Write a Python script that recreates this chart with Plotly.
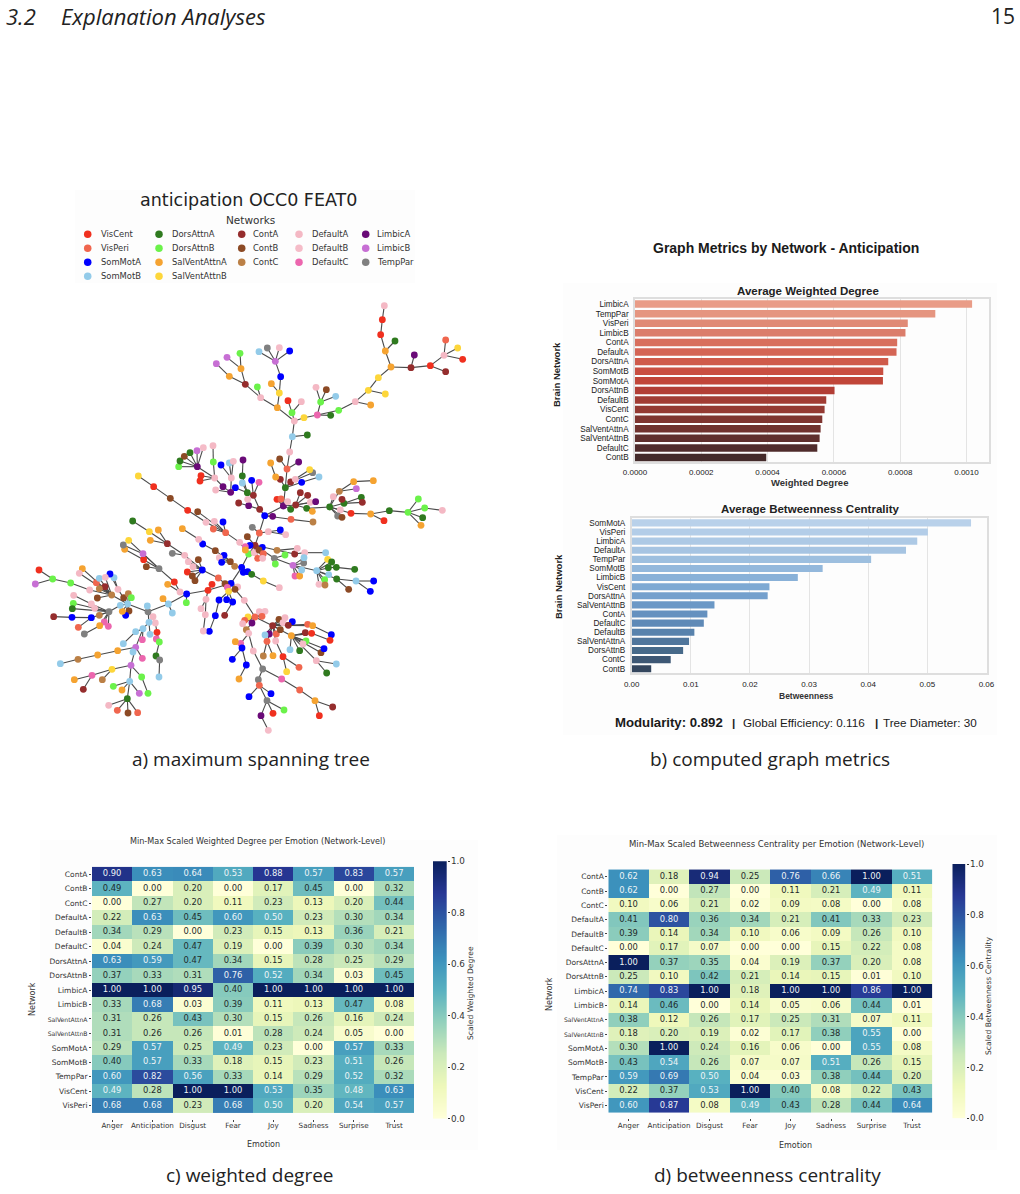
import plotly.graph_objects as go

W, H = 1020, 1194

# ---- network palette -------------------------------------------------------
network_codes = ["VC", "VP", "SA", "SB", "DA", "DB", "SVA", "SVB", "CA", "CB", "CC",
                 "DFA", "DFB", "DFC", "LA", "LB", "TP"]
network_names = ["VisCent", "VisPeri", "SomMotA", "SomMotB", "DorsAttnA", "DorsAttnB",
                 "SalVentAttnA", "SalVentAttnB", "ContA", "ContB", "ContC",
                 "DefaultA", "DefaultB", "DefaultC", "LimbicA", "LimbicB", "TempPar"]
network_colors = ["#f0301f", "#f0664e", "#0000ff", "#93cbe9", "#2f7a1f", "#6bf24a",
                  "#f5a331", "#fdd63a", "#952d2d", "#8c4a25", "#bb8046",
                  "#f4b8c4", "#f5bcc8", "#ec66ae", "#6a0a78", "#c76fd4", "#808080"]
legend_columns = [4, 4, 3, 3, 3]

# ---- spanning tree: each branch walks from a known node ("x,y") through new ones ("x,y,NET")
trunk_branches = [
    "633,400,SA 665,352,SA 686,312,DB 705,286,CA 718,249,VP 734,197,SA 790,168,LA 796,113,DA 801,57,VP 809,6,DFA 817,-40,SB 823,-87,DFA",
    "817,-40 862,-45,DA",
]
crown_branches = [
    "823,-87 772,-127,SVA 722,-157,DFA 676,-197,CA 628,-221,SVA 589,-259,LB",
    "676,-197 663,-244,SVA 621,-278,LB",
    "663,-244 660,-290,DB",
    "722,-157 712,-189,DB",
    "772,-127 778,-171,SVB 754,-199,SVA",
    "778,-171 782,-220,SA 766,-266,LB 717,-295,SB",
    "766,-266 742,-306,TP",
    "766,-266 778,-307,DFB",
    "766,-266 809,-297,SA",
    "823,-87 816,-112,DB 804,-148,VC",
    "816,-112 844,-145,DFA",
    "823,-87 852,-97,SVB 892,-105,DFC 932,-104,DA",
    "892,-105 902,-144,DB 888,-188,DFA",
    "902,-144 919,-181,CB",
    "902,-144 947,-161,SB",
    "892,-105 956,-119,DB 1006,-145,DFA 1052,-135,SVA",
    "1006,-145 1045,-179,SVB 1096,-168,SVB",
    "1045,-179 1075,-217,SVB 1113,-249,SVA 1096,-297,SVA 1125,-327,DA",
    "1096,-297 1082,-346,VC 1087,-391,VC 1093,-433,DFA",
    "1113,-249 1173,-247,CA 1183,-285,LA",
    "1173,-247 1231,-253,VC 1277,-235,CA",
    "1231,-253 1272,-284,DFA 1277,-330,VP",
    "1272,-284 1313,-306,SVB",
    "1272,-284 1328,-272,VC",
    "801,57 779,27,CB",
    "801,57 836,36,LA",
    "796,113 781,88,CA 767,81,SVA 752,39,SVA",
    "796,113 812,96,CA 878,68,TP",
    "812,96 869,59,SVB",
    "796,113 845,97,SA 897,81,SB",
    "796,113 826,88,DFA",
]
right_branches = [
    "790,168 771,148,VC",
    "790,168 783,147,VP",
    "790,168 803,155,DFA",
    "790,168 812,178,DA",
    "790,168 827,165,CA 841,128,CA",
    "827,165 863,136,CA",
    "827,165 871,157,DFB",
    "827,165 887,155,LA",
    "827,165 860,175,DA 877,184,SVA",
    "860,175 929,171,DA 958,124,CC 1001,95,SVA 1060,92,SVA",
    "958,124 1009,116,LB",
    "929,171 940,140,DFA",
    "929,171 972,160,DA 1024,142,DA",
    "972,160 1027,157,CA",
    "972,160 966,148,CA",
    "929,171 961,180,DFB",
    "929,171 953,198,TP",
    "929,171 966,202,CB",
    "929,171 993,190,VC 1052,192,SVA 1108,182,DA 1164,187,DB 1195,147,DB",
    "1164,187 1214,174,DB 1267,181,DFA",
    "1164,187 1208,203,DA",
    "1164,187 1203,226,SVA",
    "1052,192 1092,212,VC",
    "734,197 758,199,LA",
    "734,197 813,208,VP 879,216,CC",
    "734,197 719,178,CA 700,136,CA 682,128,DA 667,78,DA 669,30,LA",
    "700,136 695,91,SA",
    "700,136 717,97,DFC",
    "682,128 667,99,SB",
    "719,178 686,167,LA 656,159,CA",
    "686,167 683,148,DFB",
    "682,128 646,113,SA 632,127,LA 587,120,DFA",
    "632,127 609,110,LA 584,84,DFA 580,36,DB 579,-13,DFA",
    "584,84 532,50,LA 476,50,DB",
    "532,50 480,33,DA",
    "532,50 493,19,CB",
    "532,50 510,8,DA",
    "532,50 531,2,LB",
    "532,50 550,-7,DFB",
    "584,84 543,77,VC",
    "584,84 540,93,VC",
    "632,127 634,84,DFA 628,39,SB",
    "634,84 640,34,DFB",
    "634,84 603,45,SA",
]
middle_branches = [
    "718,249 745,245,DFA 781,240,SA",
    "745,245 797,254,DFB",
    "718,249 697,232,TP",
    "705,286 682,260,CB",
    "705,286 690,286,SA",
    "705,286 727,292,SA",
    "705,286 676,290,DFC",
    "705,286 676,300,SVA",
    "705,286 703,308,DFB",
    "705,286 717,300,CB",
    "705,286 730,311,VP",
    "705,286 713,325,VP",
    "705,286 728,325,DFA",
    "705,286 771,301,CC 824,312,CA 854,308,DFB 917,308,SB",
    "771,301 832,295,DFA",
    "705,286 763,325,TP 819,346,LB 825,378,DFC",
    "819,346 839,378,SVA",
    "819,346 845,360,SB",
    "819,346 851,339,TP",
    "819,346 852,323,SB",
    "763,325 795,315,DB",
    "763,325 766,342,DB",
    "819,346 890,362,SB 923,328,SVB",
    "890,362 935,336,DA",
    "890,362 925,353,DA 949,352,DA 1004,358,DA",
    "890,362 926,374,SB",
    "890,362 914,389,DB",
    "890,362 897,403,DFB",
    "890,362 915,405,CC",
    "890,362 950,387,DA 1008,393,SB 1061,393,SA",
    "1008,393 1051,424,SA",
    "950,387 986,418,CB",
    "686,312 659,277,DFA 617,248,VP 580,237,VP",
    "617,248 583,214,DFA",
    "617,248 609,216,SA",
    "617,248 533,185,CB",
    "617,248 558,217,DFB 503,181,VC 451,145,CB 401,110,VC 355,78,SVB",
    "665,352 670,367,SA",
    "665,352 683,365,SA",
    "665,352 695,373,DA 730,393,SVB 778,413,DFA",
    "665,352 644,349,CC 631,335,CB 586,302,CB 548,282,SA 536,268,DFA 487,236,SVA",
    "631,335 612,316,SA",
    "631,335 598,323,DFB",
    "631,335 605,337,SA",
    "633,400 615,401,CB 595,384,VP 547,360,SA 535,329,CB",
    "547,360 519,350,DFA",
    "547,360 505,335,DFB",
    "547,360 502,366,VC",
    "547,360 517,378,CB",
    "547,360 525,392,CB",
    "547,360 494,316,DFA 457,310,TP",
    "494,316 442,281,CA 415,240,SVA",
    "442,281 388,245,SVB 338,213,DA",
    "442,281 391,271,SVA",
]
lower_branches = [
    "633,400 622,412,DFC",
    "633,400 653,411,DFA",
    "633,400 626,424,SVB 597,450,SA 586,497,SA 568,544,SA",
    "626,424 620,449,SA",
    "626,424 638,456,SA 614,496,CA",
    "633,400 645,418,CB 673,451,DFA 705,501,VP 684,501,SVB",
    "705,501 718,485,DFA",
    "705,501 735,484,DFB",
    "705,501 726,499,VP",
    "705,501 674,511,VP",
    "705,501 668,521,DFA",
    "705,501 696,519,LA 679,539,CC 686,550,DFB 662,580,DFC 646,575,SVA",
    "662,580 666,594,SA 637,628,SA",
    "666,594 679,645,SA 657,687,SVA",
    "686,550 700,603,DFA 728,657,TP 715,689,TP 718,706,VP 687,740,SA",
    "718,706 753,731,SA",
    "718,706 741,752,TP 723,797,LA 745,841,DFB",
    "741,752 759,790,VC",
    "741,752 792,780,DB",
    "728,657 785,687,DFC 839,720,VP 885,752,SVA 938,771,CA",
    "885,752 898,797,VC",
    "705,501 758,527,CA 777,508,CB",
    "758,527 795,503,DFA",
    "758,527 789,518,DFB",
    "758,527 817,515,SA",
    "758,527 805,526,CA 863,523,VP",
    "805,526 878,527,SVA 934,554,SA",
    "758,527 748,552,LA",
    "758,527 735,555,SB",
    "758,527 769,552,VP",
    "758,527 781,539,CB",
    "758,527 741,574,VP 730,618,CC",
    "741,574 759,617,SVA",
    "758,527 767,573,DFA 789,620,VC 800,665,SVB",
    "789,620 837,652,VP",
    "758,527 814,557,SVA 856,548,CA",
    "814,557 875,550,VC 930,571,VC",
    "814,557 858,573,DB",
    "814,557 849,582,DFB",
    "814,557 810,599,SB",
    "814,557 839,602,DA",
    "814,557 903,608,CB",
    "814,557 912,596,SA",
    "814,557 889,632,DFA 949,642,SB",
    "889,632 920,669,DA",
]
left_branches = [
    "633,400 564,421,VC 500,432,SA 499,458,DB",
    "564,421 576,403,VC",
    "564,421 558,448,DFA 543,476,DFB",
    "558,448 556,494,DFA 550,543,DFB",
    "500,432 480,426,DFA 463,396,VC 417,356,TP 379,350,CB",
    "480,426 443,403,SVA",
    "417,356 371,329,VC 314,298,SVA",
    "417,356 369,311,LB 310,285,TP",
    "417,356 326,271,SVB",
    "500,432 445,462,SB 429,446,SVA",
    "445,462 457,489,SB",
    "445,462 384,485,TP 382,468,SB",
    "384,485 399,500,DFA",
    "384,485 406,519,DFB 411,547,VC 409,567,DFC",
    "411,547 418,576,DB 408,618,DA 419,630,TP 417,681,SB",
    "384,485 387,517,SB 369,536,SB 347,545,SB 310,581,SB",
    "387,517 390,553,SB",
    "369,536 367,569,DFC",
    "369,536 347,592,LB 339,606,SB",
    "347,592 367,625,DFC",
    "347,592 333,646,LB 276,658,SVB 216,676,DFC 163,689,SVA",
    "216,676 190,718,CA",
    "276,658 247,689,CC",
    "333,646 329,694,SB 280,709,DB",
    "329,694 306,720,SVA",
    "329,694 358,730,LB",
    "333,646 365,681,DB 384,730,DB",
    "329,694 322,746,DA 266,766,DFA",
    "322,746 292,781,VP",
    "322,746 324,789,CB",
    "322,746 353,788,VP",
    "347,592 293,602,SVA 233,615,SVA 174,628,CC 121,641,SB",
    "384,485 323,462,SB 311,443,CB",
    "323,462 325,431,CC",
    "323,462 334,443,DB",
    "323,462 327,483,CB",
    "323,462 317,496,SA",
    "323,462 307,484,SVA",
    "323,462 294,418,DFA 282,383,SB",
    "294,418 270,372,SA",
    "323,462 275,435,CC 255,410,CA",
    "275,435 238,416,CC",
    "275,435 229,398,VP",
    "275,435 209,420,DFA 152,399,DB 98,387,DB 57,360,VC",
    "98,387 46,402,LB",
    "275,435 238,385,SB",
    "275,435 256,382,DFB",
    "275,435 187,356,SVA",
    "275,435 178,370,DFA",
    "275,435 232,444,CB",
    "323,462 301,466,SB 267,485,TP 224,475,DFA",
    "267,485 214,462,DFB 161,436,DFA",
    "267,485 160,460,DB",
    "267,485 157,476,DA",
    "267,485 238,496,CC",
    "267,485 214,503,SA 156,502,SA 101,500,CA",
    "267,485 253,516,DFC",
    "267,485 265,529,DFC",
    "267,485 239,527,SVA 193,552,TP",
    "214,503 175,532,VP",
]

# ---- bar charts ------------------------------------------------------------
degree_networks = ["LimbicA", "TempPar", "VisPeri", "LimbicB", "ContA", "DefaultA", "DorsAttnA",
                   "SomMotB", "SomMotA", "DorsAttnB", "DefaultB", "VisCent", "ContC",
                   "SalVentAttnA", "SalVentAttnB", "DefaultC", "ContB"]
degree_values = [0.001017, 0.000906, 0.000823, 0.000816, 0.000791, 0.000789, 0.000764,
                 0.000749, 0.000748, 0.000602, 0.000577, 0.000572, 0.000565,
                 0.000560, 0.000557, 0.000550, 0.000396]
degree_colors = ["#e99c87", "#e59580", "#e08a76", "#db7d6b", "#d86f5d", "#d46555", "#cf5a4a",
                 "#c94f41", "#c14639", "#b23e35", "#a13c34", "#943a33", "#7f3530",
                 "#70322e", "#5f2f2d", "#502c2c", "#432a2a"]

between_networks = ["SomMotA", "VisPeri", "LimbicA", "DefaultA", "TempPar", "SomMotB", "LimbicB",
                    "VisCent", "DorsAttnA", "SalVentAttnB", "ContA", "DefaultC", "DefaultB",
                    "SalVentAttnA", "DorsAttnB", "ContC", "ContB"]
between_values = [0.0574, 0.0501, 0.0483, 0.0464, 0.0405, 0.0323, 0.0281, 0.0233, 0.0230,
                  0.0140, 0.0128, 0.0122, 0.0106, 0.0097, 0.0087, 0.0066, 0.0033]
between_colors = ["#b9d1ea", "#b3cde8", "#adc9e5", "#a6c4e2", "#9dbfdf", "#93b8dc", "#89b1d8",
                  "#7ea9d3", "#74a0cd", "#6b98c6", "#6591bf", "#5f8ab7", "#5882ac",
                  "#50769c", "#476a8a", "#3e5875", "#34465e"]

# ---- heatmaps --------------------------------------------------------------
emotions = ["Anger", "Anticipation", "Disgust", "Fear", "Joy", "Sadness", "Surprise", "Trust"]
heat_networks = ["ContA", "ContB", "ContC", "DefaultA", "DefaultB", "DefaultC", "DorsAttnA",
                 "DorsAttnB", "LimbicA", "LimbicB", "SalVentAttnA", "SalVentAttnB",
                 "SomMotA", "SomMotB", "TempPar", "VisCent", "VisPeri"]
scaled_degree = [
    [.90, .63, .64, .53, .88, .57, .83, .57],
    [.49, .00, .20, .00, .17, .45, .00, .32],
    [.00, .27, .20, .11, .23, .13, .20, .44],
    [.22, .63, .45, .60, .50, .23, .30, .34],
    [.34, .29, .00, .23, .15, .13, .36, .21],
    [.04, .24, .47, .19, .00, .39, .30, .34],
    [.63, .59, .47, .34, .15, .28, .25, .29],
    [.37, .33, .31, .76, .52, .34, .03, .45],
    [1.0, 1.0, .95, .40, 1.0, 1.0, 1.0, 1.0],
    [.33, .68, .03, .39, .11, .13, .47, .08],
    [.31, .26, .43, .30, .15, .26, .16, .24],
    [.31, .26, .26, .01, .28, .24, .05, .00],
    [.29, .57, .25, .49, .23, .00, .57, .33],
    [.40, .57, .33, .18, .15, .23, .51, .26],
    [.60, .82, .56, .33, .14, .29, .52, .32],
    [.49, .28, 1.0, 1.0, .53, .35, .48, .63],
    [.68, .68, .23, .68, .50, .20, .54, .57],
]
scaled_betweenness = [
    [.62, .18, .94, .25, .76, .66, 1.0, .51],
    [.62, .00, .27, .00, .11, .21, .49, .11],
    [.10, .06, .21, .02, .09, .08, .00, .08],
    [.41, .80, .36, .34, .21, .41, .33, .23],
    [.39, .14, .34, .10, .06, .09, .26, .10],
    [.00, .17, .07, .00, .00, .15, .22, .08],
    [1.0, .37, .35, .04, .19, .37, .20, .08],
    [.25, .10, .42, .21, .14, .15, .01, .10],
    [.74, .83, 1.0, .18, 1.0, 1.0, .86, 1.0],
    [.14, .46, .00, .14, .05, .06, .44, .01],
    [.38, .12, .26, .17, .25, .31, .07, .11],
    [.18, .20, .19, .02, .17, .38, .55, .00],
    [.30, 1.0, .24, .16, .06, .00, .55, .08],
    [.43, .54, .26, .07, .07, .51, .26, .15],
    [.59, .69, .50, .04, .03, .38, .44, .20],
    [.22, .37, .53, 1.0, .40, .08, .22, .43],
    [.60, .87, .08, .49, .43, .28, .44, .64],
]
heat_palette = ["#ffffd9", "#eef8ba", "#cbe9ba", "#92d0bc", "#58b1c0", "#3b90bc", "#2f64a9", "#273794", "#0a1f5c"]
scale_ticks = [0, .2, .4, .6, .8, 1]

BODY = "Open Sans"
MPL = "DejaVu Sans"
ARIAL = "Liberation Sans"
heat_scale = [[k / 8, c] for k, c in enumerate(heat_palette)]


def px(x):
    return x / W


def py(y):
    return 1 - y / H


def parse_tree(*groups):
    nodes, edges = {}, []
    for group in groups:
        for branch in group:
            prev = None
            for token in branch.split():
                parts = token.split(",")
                key = (int(parts[0]), int(parts[1]))
                if len(parts) == 3:
                    nodes[key] = parts[2]
                elif key not in nodes:
                    raise KeyError(token)
                if prev is not None:
                    edges.append((prev, key))
                prev = key
    return nodes, edges


nodes, edges = parse_tree(trunk_branches, crown_branches, right_branches,
                          middle_branches, lower_branches, left_branches)

fig = go.Figure()
annotations = []


def label(x, y, text, size, color="#222222", family=MPL, anchor="center", angle=0, **kw):
    annotations.append(dict(x=px(x), y=py(y), xref="paper", yref="paper", text=text,
                            showarrow=False, xanchor=anchor, yanchor="middle",
                            textangle=angle, align="left",
                            font=dict(size=size, color=color, family=family), **kw))


# tree layout units are 3 per page pixel, offset from (20, 450)
edge_x, edge_y = [], []
for a, b in edges:
    edge_x += [a[0], b[0], None]
    edge_y += [a[1], b[1], None]
fig.add_trace(go.Scatter(x=edge_x, y=edge_y, mode="lines", hoverinfo="skip",
                         line=dict(color="#4a4a4a", width=1.1), xaxis="x", yaxis="y"))
code_color = dict(zip(network_codes, network_colors))
fig.add_trace(go.Scatter(x=[k[0] for k in nodes], y=[k[1] for k in nodes], mode="markers",
                         marker=dict(size=6.8, color=[code_color[v] for v in nodes.values()],
                                     line=dict(width=0)),
                         xaxis="x", yaxis="y"))

# network key laid out column by column
column_x = [87.7, 159, 241.7, 299, 365.7]
label_x = [98.7, 169.7, 250.7, 309.7, 374.7]
key_x, key_y, key_c = [], [], []
i = 0
for col, count in enumerate(legend_columns):
    for row in range(count):
        page_y = 234.3 + row * 13.95
        key_x.append((column_x[col] - 20) * 3)
        key_y.append((page_y - 450) * 3)
        key_c.append(network_colors[i])
        label(label_x[col], page_y, network_names[i], 8.4, color="#333333", anchor="left")
        i += 1
fig.add_trace(go.Scatter(x=key_x, y=key_y, mode="markers",
                         marker=dict(size=7.5, color=key_c, line=dict(width=0)),
                         xaxis="x", yaxis="y"))

# bar panels
bar_axes = dict(showline=True, mirror=True, linecolor="#dedede", linewidth=1.5, zeroline=False)
fig.add_trace(go.Bar(x=degree_values, y=degree_networks, orientation="h", width=0.78,
                     marker=dict(color=degree_colors, line=dict(width=0)),
                     xaxis="x2", yaxis="y2"))
fig.add_trace(go.Bar(x=between_values, y=between_networks, orientation="h", width=0.78,
                     marker=dict(color=between_colors, line=dict(width=0)),
                     xaxis="x3", yaxis="y3"))


def add_heat(matrix, xa, ya):
    fig.add_trace(go.Heatmap(z=matrix, x=emotions, y=heat_networks, zmin=0, zmax=1,
                             colorscale=heat_scale, showscale=False,
                             xaxis=xa, yaxis=ya))
    xs, ys, txt, col = [], [], [], []
    for r, row in enumerate(matrix):
        for c, v in enumerate(row):
            xs.append(emotions[c])
            ys.append(heat_networks[r])
            txt.append(f"{v:.2f}")
            # the 0.49 in the ContB row of the weighted-degree grid sits just under the contrast switch
            dark = v < 0.48 or (matrix is scaled_degree and r == 1 and c == 0)
            col.append("#1e2a2a" if dark else "#eef4f6")
    fig.add_trace(go.Scatter(x=xs, y=ys, text=txt, mode="text", textposition="middle center",
                             textfont=dict(size=8.4, family=MPL, color=col), hoverinfo="skip",
                             xaxis=xa, yaxis=ya))


def add_scale_bar(xa, ya):
    ramp = [[k / 255] for k in range(256)]
    fig.add_trace(go.Heatmap(z=ramp, y=[k / 255 for k in range(256)], x=[0], zmin=0, zmax=1,
                             colorscale=heat_scale, showscale=False, hoverinfo="skip",
                             xaxis=xa, yaxis=ya))


add_heat(scaled_degree, "x4", "y4")
add_heat(scaled_betweenness, "x5", "y5")
add_scale_bar("x6", "y6")
add_scale_bar("x7", "y7")

heat_ticktext = [f'<span style="font-size:6.1px">{n}</span>' if n.startswith("Sal") else n for n in heat_networks]
heat_x = dict(ticks="outside", ticklen=2, tickcolor="#444", tickfont=dict(size=7.2, family=MPL, color="#333"),
              showgrid=False, zeroline=False, showline=False, tickmode="array", tickvals=emotions,
              ticklabelstandoff=-2)
heat_y = dict(ticks="outside", ticklen=2, tickcolor="#444", tickfont=dict(size=7.5, family=MPL, color="#333"),
              showgrid=False, zeroline=False, showline=False, autorange="reversed",
              tickmode="array", tickvals=heat_networks, ticktext=heat_ticktext)
scale_x = dict(visible=False, range=[-0.5, 0.5])
scale_y = dict(side="right", range=[0, 1], tickmode="array", tickvals=scale_ticks,
               ticktext=[f"{t:.1f}" for t in scale_ticks], ticks="outside", ticklen=2.5,
               tickcolor="#333", tickfont=dict(size=8.8, family=MPL, color="#333"),
               showgrid=False, zeroline=False, showline=False, ticklabelstandoff=-1)
bar_tick = dict(size=8, family=ARIAL, color="#1a1a1a")
bar_cat = dict(size=8.2, family=ARIAL, color="#1a1a1a")

fig.update_layout(
    width=W, height=H, margin=dict(l=0, r=0, t=0, b=0, pad=0, autoexpand=False), showlegend=False,
    paper_bgcolor="white", plot_bgcolor="rgba(0,0,0,0)", barmode="overlay",
    xaxis=dict(domain=[0, 1], range=[-60, 3000], visible=False),
    yaxis=dict(domain=[0, 1], range=[2232, -1350], visible=False),
    xaxis2=dict(domain=[px(635), px(989)], range=[0, 0.001068], anchor="y2",
                tickvals=[0, .0002, .0004, .0006, .0008, .001],
                ticktext=["0.0000", "0.0002", "0.0004", "0.0006", "0.0008", "0.0010"],
                showgrid=True, gridcolor="#e4e4e4", gridwidth=1, ticks="", tickfont=bar_tick,
                ticklabelstandoff=1, **bar_axes),
    yaxis2=dict(domain=[py(462.3), py(299.3)], anchor="x2", autorange="reversed", ticks="",
                tickmode="array", tickvals=degree_networks,
                tickfont=bar_cat, ticklabelstandoff=3, **bar_axes),
    xaxis3=dict(domain=[px(631.7), px(987)], range=[0, 0.0601], anchor="y3",
                tickvals=[0, .01, .02, .03, .04, .05, .06],
                ticktext=["0.00", "0.01", "0.02", "0.03", "0.04", "0.05", "0.06"],
                showgrid=True, gridcolor="#e4e4e4", gridwidth=1, ticks="", tickfont=bar_tick,
                ticklabelstandoff=2, **bar_axes),
    yaxis3=dict(domain=[py(673.3), py(518.3)], anchor="x3", autorange="reversed", ticks="",
                tickmode="array", tickvals=between_networks,
                tickfont=bar_cat, ticklabelstandoff=3, **bar_axes),
    xaxis4=dict(domain=[px(92), px(414.3)], anchor="y4", **heat_x),
    yaxis4=dict(domain=[py(1118.7), py(861.3)], anchor="x4", **heat_y),
    xaxis5=dict(domain=[px(608.3), px(932.3)], anchor="y5", **heat_x),
    yaxis5=dict(domain=[py(1118.3), py(864)], anchor="x5", **heat_y),
    xaxis6=dict(domain=[px(433), px(446.7)], anchor="y6", **scale_x),
    yaxis6=dict(domain=[py(1118.7), py(861.3)], anchor="x6", **scale_y),
    xaxis7=dict(domain=[px(952.3), px(965.7)], anchor="y7", **scale_x),
    yaxis7=dict(domain=[py(1118.3), py(864)], anchor="x7", **scale_y),
)

# faint backgrounds behind the pasted-in panels
for x0, y0, x1, y1 in [(75, 190, 415, 283), (563, 283, 997, 735), (40, 840, 478, 1150), (557, 835, 997, 1150)]:
    fig.add_shape(type="rect", xref="paper", yref="paper", x0=px(x0), x1=px(x1), y0=py(y1), y1=py(y0),
                  fillcolor="#fdfdfd", line=dict(width=0), layer="below")

# page furniture
label(4, 16, "<i>3.2</i>", 22, family=BODY, anchor="left")
label(59, 16, "<i>Explanation Analyses</i>", 22, family=BODY, anchor="left")
label(1003, 16, "15", 21, family=BODY)
label(250.5, 759, "a) maximum spanning tree", 19, family=BODY)
label(770, 759, "b) computed graph metrics", 19, family=BODY)
label(249.5, 1175, "c) weighted degree", 19, family=BODY)
label(767, 1175, "d) betweenness centrality", 19, family=BODY)

# panel a text
label(248, 200, "anticipation OCC0 FEAT0", 17.5)
label(250, 220, "Networks", 10.5, color="#333333")

# panel b text
label(786, 248, "<b>Graph Metrics by Network - Anticipation</b>", 14, family=ARIAL, color="#1a1a1a")
label(808, 291, "<b>Average Weighted Degree</b>", 11.5, family=ARIAL)
label(809, 483, "<b>Weighted Degree</b>", 9.5, family=ARIAL, color="#333333")
label(557, 375, "<b>Brain Network</b>", 9.5, family=ARIAL, angle=-90)
label(810, 509, "<b>Average Betweenness Centrality</b>", 11.5, family=ARIAL)
label(806, 696, "<b>Betweenness</b>", 8.5, family=ARIAL, color="#333333")
label(558, 587, "<b>Brain Network</b>", 9.5, family=ARIAL, angle=-90)
label(669, 722, "<b>Modularity: 0.892</b>", 13.2, family=ARIAL, color="#1a1a1a")
label(733, 722, "<b>|</b>", 11.7, family=ARIAL, color="#1a1a1a")
label(804, 722, "Global Efficiency: 0.116", 11.7, family=ARIAL, color="#1a1a1a")
label(876, 722, "<b>|</b>", 11.7, family=ARIAL, color="#1a1a1a")
label(930, 722, "Tree Diameter: 30", 11.7, family=ARIAL, color="#1a1a1a")

# panel c text
label(257, 840.5, "Min-Max Scaled Weighted Degree per Emotion (Network-Level)", 8.1, color="#333333")
label(263, 1144.5, "Emotion", 8, color="#333333")
label(32, 999, "Network", 8, color="#333333", angle=-90)
label(470, 993, "Scaled Weighted Degree", 7.6, color="#333333", angle=-90)

# panel d text
label(776, 843.5, "Min-Max Scaled Betweenness Centrality per Emotion (Network-Level)", 8.5, color="#333333")
label(795, 1145.5, "Emotion", 8, color="#333333")
label(549, 994, "Network", 8, color="#333333", angle=-90)
label(989, 996, "Scaled Betweenness Centrality", 7.6, color="#333333", angle=-90)

fig.update_layout(annotations=annotations)
fig.write_html("out.html")
